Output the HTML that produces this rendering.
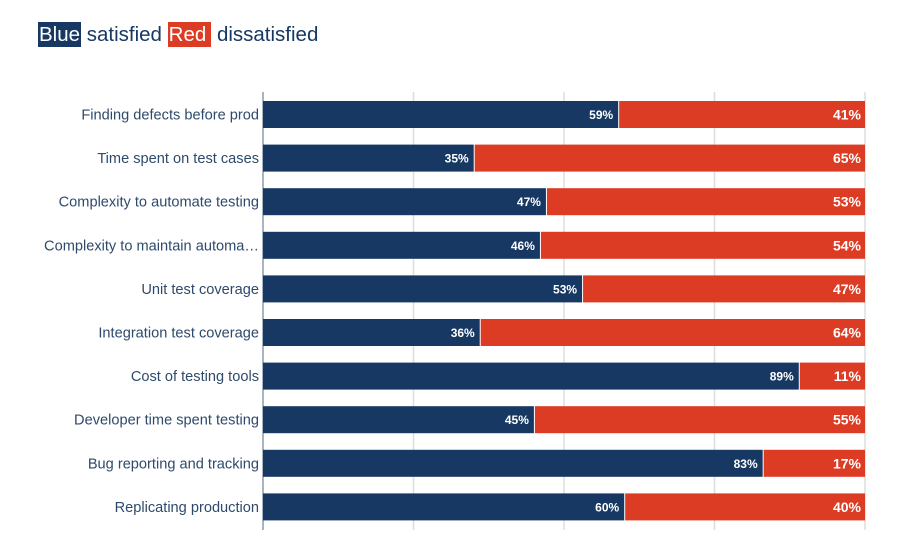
<!DOCTYPE html>
<html><head><meta charset="utf-8"><style>
body{margin:0;background:#fff;width:900px;height:550px;overflow:hidden;font-family:"Liberation Sans",sans-serif}
#title{position:absolute;left:38px;top:22px;font-size:20.5px;color:#163862;white-space:nowrap}
.hl{color:#fff;padding:0 1px;display:inline-block;line-height:25px}
</style></head><body>
<div id="title"><span class="hl" style="background:#163862">Blue</span> satisfied <span class="hl" style="background:#dc3c24;padding-right:5px">Red</span> dissatisfied</div>
<svg id="chart" width="900" height="550" style="position:absolute;left:0;top:0"></svg>
<script>
const categories=["Finding defects before prod","Time spent on test cases","Complexity to automate testing","Complexity to maintain automa…","Unit test coverage","Integration test coverage","Cost of testing tools","Developer time spent testing","Bug reporting and tracking","Replicating production"];
const satisfied=[59,35,47,46,53,36,89,45,83,60];
const dissatisfied=[41,65,53,54,47,64,11,55,17,40];
const gridTicks=[0,25,50,75,100];
const NS="http://www.w3.org/2000/svg";
const svg=document.getElementById('chart');
const X0=263,X1=865,Y0=101,STEP=43.6,BH=27;
const x=v=>X0+(X1-X0)*v/100;
const y=i=>Y0+i*STEP;
function mk(t,a){const e=document.createElementNS(NS,t);for(const k in a)e.setAttribute(k,a[k]);svg.appendChild(e);return e;}
gridTicks.forEach(t=>{const l=mk('line',{x1:x(t),x2:x(t),y1:92,y2:530,stroke:t===0?'#8a9bb0':'#ddd','stroke-width':1.5});

});
categories.forEach((c,i)=>{
const yy=y(i);
const lb=mk('text',{x:X0-4,y:yy+BH/2+5,'text-anchor':'end','font-size':14.6,fill:'#2e4a6b'});lb.textContent=c;


const b1=mk('rect',{x:x(0),y:yy,width:x(satisfied[i])-x(0),height:BH,fill:'#163862'});


const b2=mk('rect',{x:x(satisfied[i])+1,y:yy,width:x(satisfied[i]+dissatisfied[i])-x(satisfied[i])-1,height:BH,fill:'#dc3c24'});


const t1=mk('text',{x:x(satisfied[i])-5,y:yy+BH/2+4.5,'text-anchor':'end','font-size':12,'font-weight':'bold',fill:'#fff'});t1.textContent=satisfied[i]+'%';


const t2=mk('text',{x:x(satisfied[i]+dissatisfied[i])-4,y:yy+BH/2+5,'text-anchor':'end','font-size':14,'font-weight':'bold',fill:'#fff'});t2.textContent=dissatisfied[i]+'%';


});
</script>
</body></html>
